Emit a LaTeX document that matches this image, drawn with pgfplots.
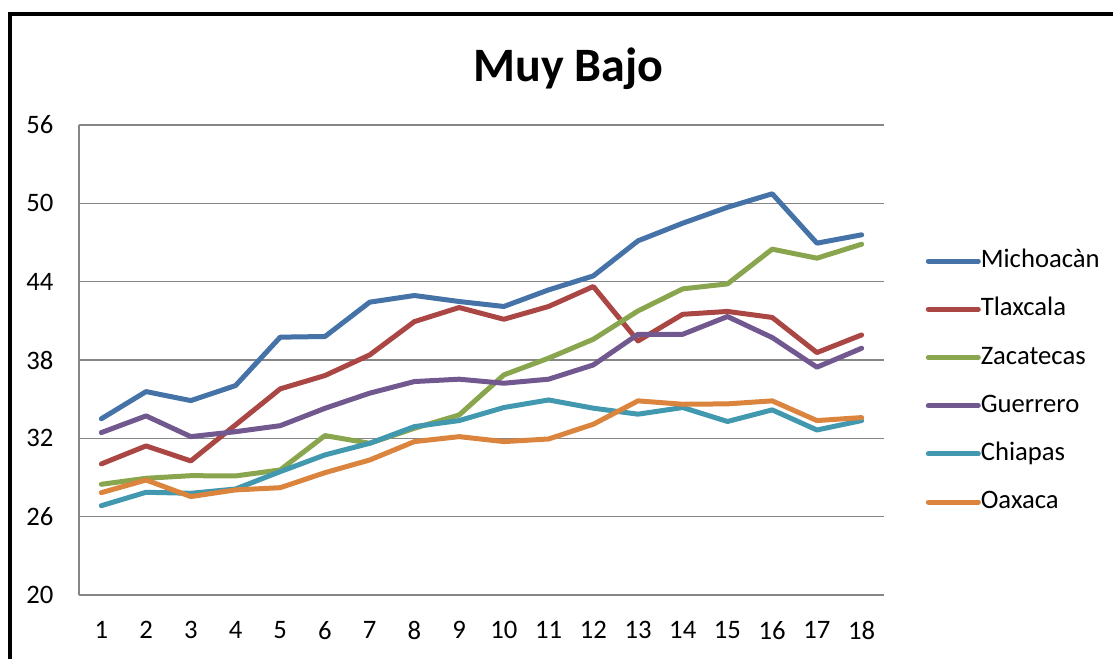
\documentclass[border=0pt]{standalone}
\usepackage{fontspec}
\setmainfont{Carlito}
\usepackage{pgfplots}
\usepackage{pgfplotstable}
\pgfplotsset{compat=1.18}
\definecolor{cBlue}{HTML}{4572A7}
\definecolor{cRed}{HTML}{AA4643}
\definecolor{cGreen}{HTML}{89A54E}
\definecolor{cPurple}{HTML}{71588F}
\definecolor{cAqua}{HTML}{4198AF}
\definecolor{cOrange}{HTML}{DB843D}
\definecolor{gridgray}{HTML}{868686}
\pgfplotstableread{
x  Mich  Tlax  Zaca  Guer  Chia  Oaxa
1  33.50 30.04 28.48 32.44 26.84 27.84
2  35.58 31.42 28.94 33.72 27.87 28.81
3  34.89 30.27 29.14 32.13 27.79 27.54
4  36.04 33.03 29.12 32.51 28.12 28.05
5  39.75 35.79 29.58 32.97 29.45 28.22
6  39.80 36.81 32.21 34.30 30.73 29.37
7  42.43 38.39 31.62 35.46 31.62 30.34
8  42.94 40.94 32.77 36.35 32.90 31.75
9  42.48 42.02 33.79 36.53 33.36 32.13
10 42.10 41.12 36.86 36.22 34.36 31.75
11 43.37 42.10 38.14 36.53 34.94 31.95
12 44.44 43.63 39.59 37.62 34.31 33.08
13 47.13 39.46 41.76 39.97 33.85 34.87
14 48.48 41.50 43.45 39.97 34.36 34.61
15 49.70 41.72 43.83 41.33 33.29 34.64
16 50.73 41.26 46.49 39.72 34.18 34.87
17 46.95 38.57 45.80 37.45 32.64 33.36
18 47.59 39.92 46.87 38.90 33.36 33.59
}\datatable
\begin{document}
\begin{tikzpicture}[x=0.75pt,y=0.75pt]
\draw[line width=3pt] (10,-100) -- (10,643.5) -- (1300,643.5);
\node[anchor=base, font=\fontsize{36}{40}\selectfont\bfseries, inner sep=0pt] at (568.5,576) {Muy Bajo};
\begin{axis}[
  at={(59.25pt,47.25pt)}, anchor=south west, scale only axis,
  width=603.75pt, height=352.5pt,
  xmin=0.5, xmax=18.5, ymin=20, ymax=56,
  xtick={1,...,18}, ytick={20,26,...,56},
  axis x line*=bottom, axis y line*=left,
  axis line style={draw=gridgray, line width=0.9pt, -},
  ymajorgrids, grid style={draw=gridgray, line width=0.9pt},
  major tick length=0pt,
  tick label style={font=\fontsize{20}{24}\selectfont, inner sep=0pt},
  yticklabel style={xshift=-19pt},
  xticklabel style={yshift=-19.5pt},
  /pgf/number format/assume math mode=true,
  every axis plot/.append style={line width=3.75pt, line join=round, line cap=round, no marks},
  legend style={at={(1.0516,0.4540)}, anchor=west, draw=none, fill=none, inner sep=0pt,
    row sep=16.15pt, font=\fontsize{20}{24}\selectfont,
    nodes={inner sep=0pt, text height=15pt, text depth=5pt},
    /tikz/every even column/.append style={column sep=5.6pt}},
  legend cell align=left,
  legend image code/.code={\draw[#1, line width=3.75pt, line cap=round] (0pt,0pt) -- (37.5pt,0pt);},
]
\addplot[cBlue] table[x=x,y=Mich] {\datatable};
\addlegendentry{Michoacàn}
\addplot[cRed] table[x=x,y=Tlax] {\datatable};
\addlegendentry{Tlaxcala}
\addplot[cGreen] table[x=x,y=Zaca] {\datatable};
\addlegendentry{Zacatecas}
\addplot[cPurple] table[x=x,y=Guer] {\datatable};
\addlegendentry{Guerrero}
\addplot[cAqua] table[x=x,y=Chia] {\datatable};
\addlegendentry{Chiapas}
\addplot[cOrange] table[x=x,y=Oaxa] {\datatable};
\addlegendentry{Oaxaca}
\end{axis}
\pgfresetboundingbox
\useasboundingbox (0,0) rectangle (1113,658);
\end{tikzpicture}
\end{document}
